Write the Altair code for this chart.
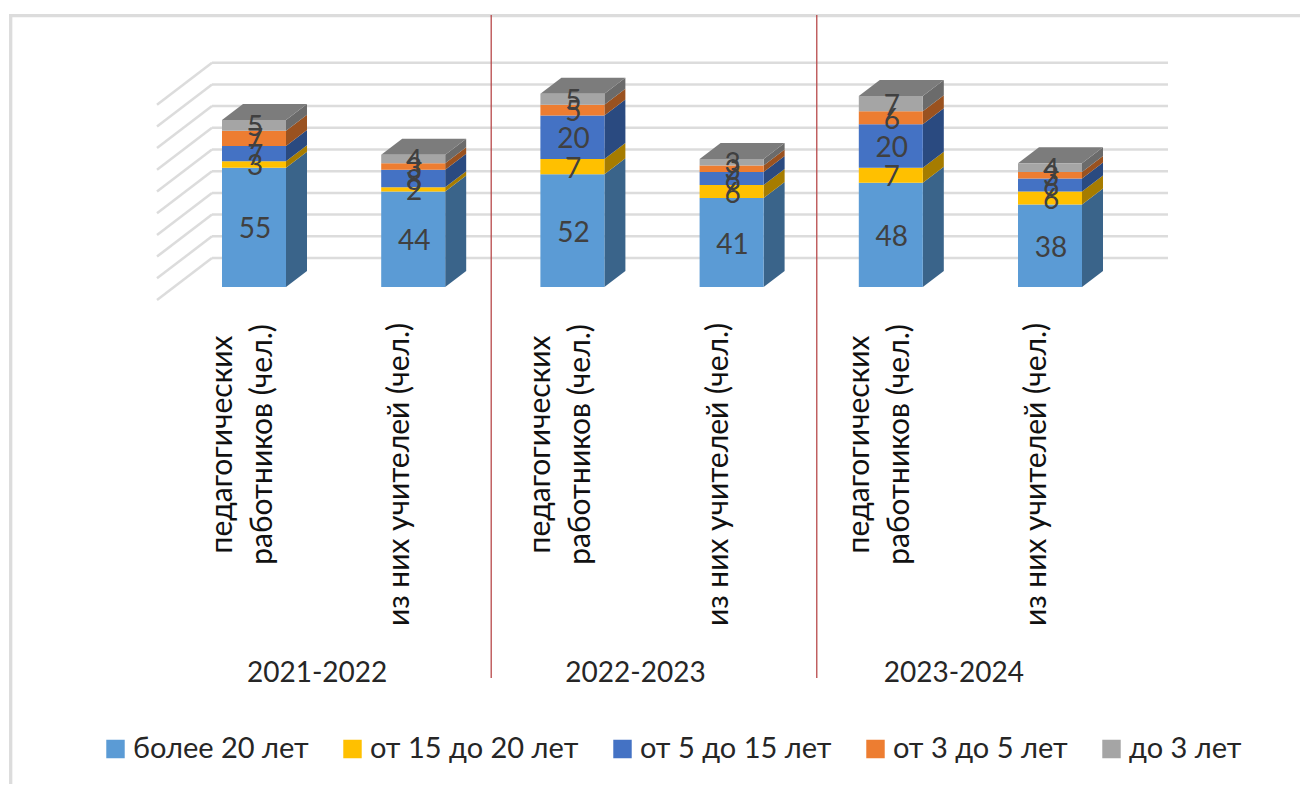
import altair as alt
import pandas as pd

categories = ["педагогических работников (чел.)", "из них учителей (чел.)"] * 3
years = ["2021-2022", "2022-2023", "2023-2024"]
series = ["более 20 лет", "от 15 до 20 лет", "от 5 до 15 лет", "от 3 до 5 лет", "до 3 лет"]
more_20 = [55, 44, 52, 41, 48, 38]
from_15 = [3, 2, 7, 6, 7, 6]
from_5 = [7, 8, 20, 6, 20, 6]
from_3 = [7, 3, 5, 3, 6, 3]
to_3 = [5, 4, 5, 3, 7, 4]
front_colors = ["#5b9bd5", "#ffc000", "#4472c4", "#ed7d31", "#a5a5a5"]
side_colors = ["#3a648a", "#a67c00", "#2a4a80", "#9a5220", "#6b6b6b"]
top_color = "#7c7c7c"
grid_values = [0, 10, 20, 30, 40, 50, 60, 70, 80, 90]
dividers = [1.49, 3.535]

W, H = 1292, 776
SLOT = 159.2
PX_UNIT = 2.17
X0_PAGE, Y0_PAGE = 254 - 8, 287 - 8
BAR = 64 / SLOT
DX = 21 / SLOT
DY = 16 / PX_UNIT

xscale = alt.Scale(domain=[-X0_PAGE / SLOT, (W - X0_PAGE) / SLOT], range=[0, W], nice=False, zero=False)
yscale = alt.Scale(domain=[(Y0_PAGE - H) / PX_UNIT, Y0_PAGE / PX_UNIT], range=[H, 0], nice=False, zero=False)
X = lambda f: alt.X(f, type="quantitative", scale=xscale, axis=None)
Y = lambda f: alt.Y(f, type="quantitative", scale=yscale, axis=None, stack=None)

columns = [more_20, from_15, from_5, from_3, to_3]
front, faces, labels = [], [], []
gid = 0
for i in range(6):
    base = 0
    l, r = i - BAR / 2, i + BAR / 2
    for s, col in enumerate(columns):
        v = col[i]
        top = base + v
        front.append(dict(series=series[s], x=l, x2=r, y=base, y2=top))
        labels.append(dict(x=i, y=(base + top) / 2, t=str(v)))
        gid += 1
        faces += [
            dict(g=gid, c=side_colors[s], x=r, y=base, y2=top),
            dict(g=gid, c=side_colors[s], x=r + DX, y=base + DY, y2=top + DY),
        ]
        base = top
    gid += 1
    faces += [
        dict(g=gid, c=top_color, x=l, y=base, y2=base),
        dict(g=gid, c=top_color, x=l + DX, y=base, y2=base + DY),
        dict(g=gid, c=top_color, x=r, y=base, y2=base + DY),
        dict(g=gid, c=top_color, x=r + DX, y=base + DY, y2=base + DY),
    ]
faces_df = pd.DataFrame(faces)

GRID_BACK = 258 - 8
back0 = (Y0_PAGE - GRID_BACK) / PX_UNIT
grid = pd.DataFrame([dict(y=back0 + v, x=(212 - 8 - X0_PAGE) / SLOT, x2=(1168 - 8 - X0_PAGE) / SLOT) for v in grid_values])
diag = pd.DataFrame([dict(x=(157 - 8 - X0_PAGE) / SLOT, x2=(212 - 8 - X0_PAGE) / SLOT,
                          y=back0 + v - 42 / PX_UNIT, y2=back0 + v) for v in grid_values])

grid_layer = alt.Chart(grid).mark_rule(color="#dcdcdc", strokeWidth=2.5).encode(x=X("x"), x2="x2", y=Y("y"))
diag_layer = alt.Chart(diag).mark_rule(color="#dcdcdc", strokeWidth=2.5).encode(x=X("x"), x2="x2", y=Y("y"), y2="y2")

face_layers = []
for c in side_colors + [top_color]:
    face_layers.append(
        alt.Chart(faces_df[faces_df.c == c]).mark_area(interpolate="linear", color=c, orient="vertical").encode(
            x=X("x"), y=Y("y"), y2="y2", detail="g:N"))

front_layer = alt.Chart(pd.DataFrame(front)).mark_rect().encode(
    x=X("x"), x2="x2", y=Y("y"), y2="y2",
    color=alt.Color("series:N", scale=alt.Scale(domain=series, range=front_colors),
                    legend=alt.Legend(orient="none", legendX=105 - 8 - 4, legendY=748 - 8 - 14, direction="horizontal",
                                      columns=5, title=None, symbolType="square", symbolSize=340, symbolStrokeWidth=0,
                                      labelFont="Lato", labelFontSize=29, labelColor="#262626", columnPadding=29,
                                      labelOffset=3, gridAlign="none", symbolOpacity=1, clipHeight=30, labelLimit=400)))

label_layer = alt.Chart(pd.DataFrame(labels)).mark_text(font="Lato", fontSize=28, color="#404040", dy=3, dx=1).encode(
    x=X("x"), y=Y("y"), text="t:N")

wrapped = []
for i, c in enumerate(categories):
    if i % 2 == 0:
        wrapped.append(dict(x=i - 31 / SLOT, t="педагогических", line=0))
        wrapped.append(dict(x=i + 9 / SLOT, t="работников (чел.)", line=1))
    else:
        wrapped.append(dict(x=i - 13 / SLOT, t=c, line=2))
wdf = pd.DataFrame(wrapped)
cat_layers = []
for line, ypix in [(0, 444.5 - 8), (1, 444.5 - 8), (2, 474.5 - 8)]:
    cat_layers.append(
        alt.Chart(wdf[wdf.line == line]).mark_text(font="Lato", fontSize=30, color="#111111", angle=270, align="center",
                                                   baseline="middle").encode(
            x=X("x"), y=alt.value(ypix), text="t:N"))

year_df = pd.DataFrame({"x": [0.5, 2.5, 4.5], "t": years})
year_layer = alt.Chart(year_df).mark_text(font="Lato", fontSize=28, color="#262626", dx=-16.5).encode(
    x=X("x"), y=alt.value(674 - 8), text="t:N")

div_layer = alt.Chart(pd.DataFrame({"x": dividers})).mark_rule(color="#b8494a", strokeWidth=1.3).encode(
    x=X("x"), y=alt.value(15 - 8), y2=alt.value(678 - 8))

frame_df = pd.DataFrame({"k": [0]})
frame_top = alt.Chart(frame_df).mark_rule(color="#dcdcdc", strokeWidth=3.3).encode(
    x=alt.value(9 - 8), x2=alt.value(W), y=alt.value(15.7 - 8))
frame_left = alt.Chart(frame_df).mark_rule(color="#dcdcdc", strokeWidth=3.3).encode(
    x=alt.value(10.7 - 8), y=alt.value(14 - 8), y2=alt.value(H))

chart = alt.layer(frame_top, frame_left, grid_layer, diag_layer, div_layer, *face_layers, front_layer, label_layer,
                  *cat_layers, year_layer).resolve_scale(color="independent").properties(
    width=W, height=H, padding=0, autosize=alt.AutoSizeParams(type="none")).configure_view(stroke=None)

chart.save("out.html", embed_options={"renderer": "svg", "actions": False})
